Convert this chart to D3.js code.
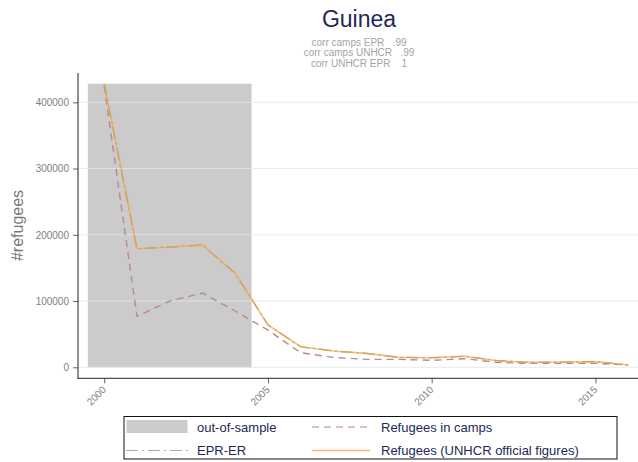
<!DOCTYPE html>
<html>
<head>
<meta charset="utf-8">
<script src="https://cdn.jsdelivr.net/npm/d3@7"></script>
<style>
  body { margin: 0; background: #fff; }
  svg { display: block; font-family: "Liberation Sans", Arial, sans-serif; }
</style>
</head>
<body>
<div id="chart"></div>
<script>
// Données (Guinée)
const years   = [2000, 2001, 2002, 2003, 2004, 2005, 2006, 2007, 2008, 2009, 2010, 2011, 2012, 2013, 2014, 2015, 2016];
const camps   = [425000, 77000, 100000, 112000, 85000, 56000, 22000, 15000, 12000, 12000, 10500, 13000, 7500, 6000, 6000, 6000, 3500];
const eprer   = [428000, 179000, 181500, 184500, 142000, 64000, 31000, 24600, 21000, 15000, 14500, 16600, 10000, 7500, 8000, 8500, 3500];
const unhcr   = [428000, 179000, 181500, 184500, 142000, 64000, 31000, 24600, 21000, 15000, 14500, 16600, 10000, 7500, 8000, 8500, 3500];
const outOfSample = [1999.5, 2004.5];
const yTicks  = [0, 100000, 200000, 300000, 400000];
const xTicks  = [2000, 2005, 2010, 2015];
const corrLines = ['corr camps EPR   .99', 'corr camps UNHCR   .99', 'corr UNHCR EPR    1'];

const W = 638, H = 462;
const COL = {
  shade: '#cbcbcb', camps: '#b88894', epr: '#9fb58e', unhcr: '#f3a94f',
  grid: '#dfe8ea', axis: '#222', tick: '#808080', title: '#1b2a55', sub: '#a3a3a3'
};

const svg = d3.select('#chart').append('svg')
  .attr('width', W).attr('height', H)
  .attr('viewBox', `0 0 ${W} ${H}`);

const x = d3.scaleLinear().domain([1999.2, 2016.3]).range([78, 638]);
const y = d3.scaleLinear().domain([-16600, 443800]).range([378.3, 73.3]);

// Zone hors échantillon
const maxVal = d3.max(unhcr);
svg.append('rect')
  .attr('x', x(outOfSample[0])).attr('width', x(outOfSample[1]) - x(outOfSample[0]))
  .attr('y', y(maxVal)).attr('height', y(0) - y(maxVal))
  .attr('fill', COL.shade);

// Grille horizontale
svg.append('g').selectAll('line').data(yTicks).join('line')
  .attr('x1', 78).attr('x2', W)
  .attr('y1', d => y(d)).attr('y2', d => y(d))
  .attr('stroke', COL.grid).attr('stroke-opacity', 0.8).attr('stroke-width', 1);

// Séries
const line = vals => d3.line().x((d, i) => x(years[i])).y(d => y(d))(vals);

svg.append('path').attr('d', line(camps))
  .attr('fill', 'none').attr('stroke', COL.camps).attr('stroke-width', 1.4)
  .attr('stroke-dasharray', '7,5');

svg.append('path').attr('d', line(eprer))
  .attr('fill', 'none').attr('stroke', '#8a8f5c').attr('stroke-width', 1.2)
  .attr('stroke-dasharray', '12,4,2,4');

svg.append('path').attr('d', line(unhcr))
  .attr('fill', 'none').attr('stroke', COL.unhcr).attr('stroke-width', 1.6)
  .attr('stroke-opacity', 0.75);

// Axe Y
const yAxis = svg.append('g').attr('transform', 'translate(78,0)')
  .call(d3.axisLeft(y).tickValues(yTicks).tickSize(5).tickPadding(4).tickFormat(d3.format('d')));
yAxis.select('.domain').remove();
yAxis.selectAll('.tick line').attr('stroke', '#666');
yAxis.selectAll('.tick text').attr('fill', COL.tick).attr('font-size', 10)
  .attr('font-family', '"Liberation Sans", Arial, sans-serif');
svg.append('line').attr('x1', 78).attr('x2', 78).attr('y1', 73).attr('y2', 378.5)
  .attr('stroke', COL.axis).attr('stroke-width', 1);

// Axe X
const xAxis = svg.append('g').attr('transform', 'translate(0,378.3)')
  .call(d3.axisBottom(x).tickValues(xTicks).tickSize(5).tickFormat(d3.format('d')));
xAxis.select('.domain').remove();
xAxis.selectAll('.tick line').attr('stroke', '#666');
xAxis.selectAll('.tick text')
  .attr('fill', COL.tick).attr('font-size', 10)
  .attr('font-family', '"Liberation Sans", Arial, sans-serif')
  .attr('text-anchor', 'end').attr('dy', null).attr('y', 0)
  .attr('transform', 'translate(2,12) rotate(-45)');
svg.append('line').attr('x1', 77.5).attr('x2', W).attr('y1', 378.3).attr('y2', 378.3)
  .attr('stroke', COL.axis).attr('stroke-width', 1);

// Titres
svg.append('text').attr('x', 359).attr('y', 27).attr('text-anchor', 'middle')
  .attr('font-size', 23).attr('fill', COL.title).text('Guinea');
svg.append('g').selectAll('text').data(corrLines).join('text')
  .attr('x', 359).attr('y', (d, i) => 46 + i * 10.3).attr('text-anchor', 'middle')
  .attr('font-size', 10).attr('fill', COL.sub)
  .attr('xml:space', 'preserve').style('white-space', 'pre')
  .text(d => d);

svg.append('text')
  .attr('transform', `translate(23,${(73 + 378) / 2}) rotate(-90)`)
  .attr('text-anchor', 'middle').attr('font-size', 16).attr('fill', '#777')
  .text('#refugees');

// Légende
const lg = svg.append('g');
lg.append('rect').attr('x', 124).attr('y', 416.5).attr('width', 493).attr('height', 42.5)
  .attr('fill', '#fff').attr('stroke', '#111').attr('stroke-width', 1);

const r1 = 427, r2 = 450.5;
lg.append('rect').attr('x', 126.5).attr('y', 420).attr('width', 61).attr('height', 13)
  .attr('fill', COL.shade);
lg.append('line').attr('x1', 126).attr('x2', 188).attr('y1', r2).attr('y2', r2)
  .attr('stroke', COL.epr).attr('stroke-width', 1.2).attr('stroke-dasharray', '12,4,2,4');
lg.append('line').attr('x1', 312).attr('x2', 370).attr('y1', r1).attr('y2', r1)
  .attr('stroke', '#d8a6ae').attr('stroke-width', 1.3).attr('stroke-dasharray', '7,5');
lg.append('line').attr('x1', 312).attr('x2', 370).attr('y1', r2).attr('y2', r2)
  .attr('stroke', COL.unhcr).attr('stroke-width', 1.3).attr('stroke-opacity', 0.8);

const items = [
  { t: 'out-of-sample', x: 197, y: r1 },
  { t: 'EPR-ER', x: 197, y: r2 },
  { t: 'Refugees in camps', x: 381, y: r1 },
  { t: 'Refugees (UNHCR official figures)', x: 381, y: r2 }
];
lg.selectAll('text.lab').data(items).join('text')
  .attr('class', 'lab')
  .attr('x', d => d.x).attr('y', d => d.y).attr('dy', '0.35em')
  .attr('font-size', 13).attr('fill', COL.title)
  .text(d => d.t);
</script>
</body>
</html>
